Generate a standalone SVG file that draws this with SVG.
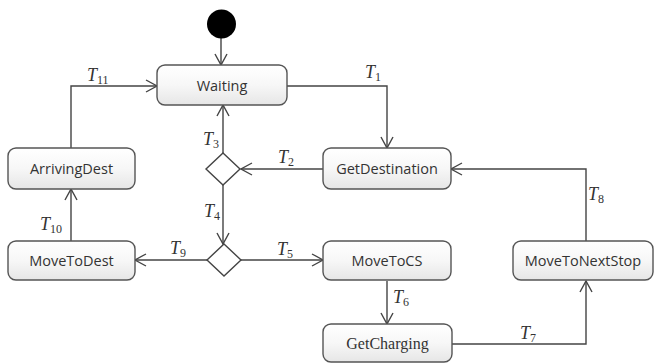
<svg xmlns="http://www.w3.org/2000/svg" width="654" height="363" viewBox="0 0 654 363">
<defs>
<linearGradient id="g" x1="0" y1="0" x2="0" y2="1">
<stop offset="0" stop-color="#ffffff"/>
<stop offset="0.5" stop-color="#f7f7f7"/>
<stop offset="1" stop-color="#e6e6e6"/>
</linearGradient>
<marker id="a" markerUnits="userSpaceOnUse" markerWidth="14" markerHeight="16" viewBox="-12 -8 14 16" refX="0" refY="0" orient="auto">
<path d="M-11,-6 L0,0 L-11,6" fill="none" stroke="#444" stroke-width="1.4"/>
</marker>
</defs>
<style>
.box{fill:url(#g);stroke:#555;stroke-width:1.4}
.dia{fill:#fff;stroke:#444;stroke-width:1.4}
.ln{fill:none;stroke:#444;stroke-width:1.4;marker-end:url(#a)}
.lb{font-family:"Open Sans","Noto Sans",sans-serif;font-size:14.5px;fill:#333;text-anchor:middle}
.lbs{font-family:"Liberation Serif",serif;font-size:16px;fill:#333;text-anchor:middle}
.t{font-family:"Liberation Serif",serif;font-size:18px;fill:#333;font-style:italic}
.s{font-size:12px;font-style:normal}
</style>
<g id="connectors">
<path class="ln" d="M221,38 L221,65"/>
<path class="ln" d="M71,148 L71,86 L157,86"/>
<path class="ln" d="M287,86 L387,86 L387,148"/>
<path class="ln" d="M323,169 L241,169"/>
<path class="ln" d="M223,153 L223,105"/>
<path class="ln" d="M223,185 L223,244"/>
<path class="ln" d="M207,260 L135,260"/>
<path class="ln" d="M241,260 L323,260"/>
<path class="ln" d="M71,241 L71,189"/>
<path class="ln" d="M387,281 L387,324"/>
<path class="ln" d="M452,344 L586,344 L586,281"/>
<path class="ln" d="M586,241 L586,169 L451,169"/>
<text class="t" x="87" y="81">T<tspan class="s" dy="3">11</tspan></text>
<text class="t" x="365" y="78">T<tspan class="s" dy="3">1</tspan></text>
<text class="t" x="278" y="163">T<tspan class="s" dy="3">2</tspan></text>
<text class="t" x="203" y="145">T<tspan class="s" dy="3">3</tspan></text>
<text class="t" x="204" y="217">T<tspan class="s" dy="3">4</tspan></text>
<text class="t" x="277" y="255">T<tspan class="s" dy="3">5</tspan></text>
<text class="t" x="393" y="303">T<tspan class="s" dy="3">6</tspan></text>
<text class="t" x="520" y="339">T<tspan class="s" dy="3">7</tspan></text>
<text class="t" x="588" y="200">T<tspan class="s" dy="3">8</tspan></text>
<text class="t" x="170" y="254">T<tspan class="s" dy="3">9</tspan></text>
<text class="t" x="40" y="230">T<tspan class="s" dy="3">10</tspan></text>
</g>
<g id="initial"><circle cx="221.5" cy="24" r="14.5" fill="#000"/></g>
<g id="waiting"><rect class="box" x="157" y="65" width="130" height="40" rx="8"/><text class="lb" x="222" y="91">Waiting</text></g>
<g id="getdestination"><rect class="box" x="323" y="148" width="128" height="41" rx="8"/><text class="lb" x="387" y="174">GetDestination</text></g>
<g id="arrivingdest"><rect class="box" x="8" y="148" width="127" height="41" rx="8"/><text class="lb" x="71.5" y="174">ArrivingDest</text></g>
<g id="decision1"><path class="dia" d="M223,153 L240,169 L223,185 L206,169 Z"/></g>
<g id="decision2"><path class="dia" d="M224,244 L241,260 L224,276 L207,260 Z"/></g>
<g id="movetodest"><rect class="box" x="8" y="241" width="127" height="39" rx="8"/><text class="lb" x="71.5" y="266">MoveToDest</text></g>
<g id="movetocs"><rect class="box" x="323" y="241" width="128" height="39" rx="8"/><text class="lb" x="387" y="266">MoveToCS</text></g>
<g id="movetonextstop"><rect class="box" x="513" y="241" width="140" height="39" rx="8"/><text class="lb" x="583" y="266">MoveToNextStop</text></g>
<g id="getcharging"><rect class="box" x="323" y="324" width="129" height="38" rx="8"/><text class="lbs" x="387.5" y="349">GetCharging</text></g>
</svg>
